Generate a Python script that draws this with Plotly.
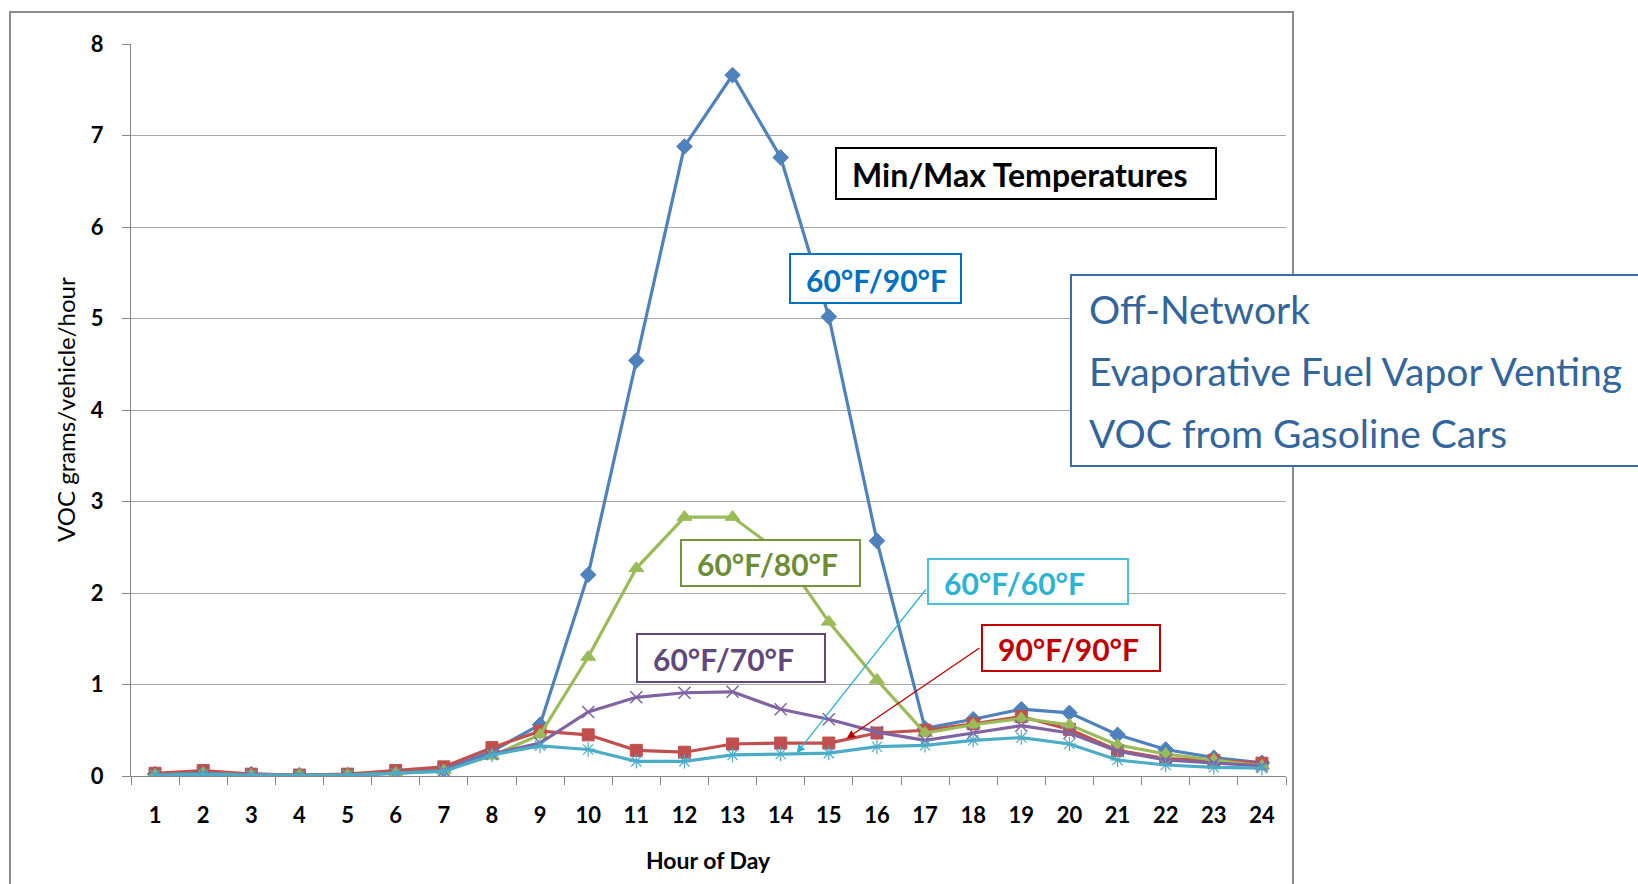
import plotly.graph_objects as go

# ---------------- data ----------------
hours = [str(h) for h in range(1, 25)]
voc_60_90 = [0.02, 0.04, 0.02, 0.01, 0.01, 0.04, 0.07, 0.27, 0.56, 2.20, 4.54, 6.88,
             7.66, 6.76, 5.02, 2.57, 0.52, 0.62, 0.73, 0.69, 0.45, 0.29, 0.20, 0.145]
voc_90_90 = [0.03, 0.06, 0.02, 0.01, 0.02, 0.06, 0.10, 0.31, 0.49, 0.45, 0.28, 0.26,
             0.35, 0.36, 0.36, 0.47, 0.50, 0.57, 0.65, 0.51, 0.28, 0.19, 0.17, 0.14]
voc_60_80 = [0.01, 0.03, 0.01, 0.01, 0.01, 0.03, 0.06, 0.22, 0.45, 1.30, 2.27, 2.83,
             2.83, 2.44, 1.685, 1.05, 0.47, 0.56, 0.63, 0.56, 0.34, 0.24, 0.175, 0.11]
voc_60_70 = [0.01, 0.03, 0.01, 0.01, 0.01, 0.03, 0.06, 0.24, 0.36, 0.70, 0.86, 0.91,
             0.92, 0.73, 0.62, 0.48, 0.39, 0.47, 0.55, 0.47, 0.27, 0.175, 0.14, 0.11]
voc_60_60 = [0.01, 0.02, 0.01, 0.005, 0.01, 0.03, 0.05, 0.23, 0.33, 0.29, 0.16, 0.16,
             0.23, 0.24, 0.25, 0.32, 0.335, 0.39, 0.42, 0.35, 0.175, 0.12, 0.095, 0.085]

series_names = ["60°F/90°F", "90°F/90°F", "60°F/80°F", "60°F/70°F", "60°F/60°F"]
y_title = "VOC grams/vehicle/hour"
x_title = "Hour of Day"
box_title = "Min/Max Temperatures"
side_lines = ["Off-Network", "Evaporative Fuel Vapor Venting", "VOC from Gasoline Cars"]

# arrow targets (hour, value) for 60°F/60°F and 90°F/90°F callouts
arrow_hours = [14.33, 15.37]
arrow_vals = [0.248, 0.41]

# ---------------- layout helpers ----------------
# page body margin is removed by the post script, so figure fills the window
OFF = 0
FW, FH = 1638 - OFF, 884 - OFF
PL, PR, PT, PB = 131, 1286, 44, 776   # plot area in window pixels
W = PR - PL
H = PB - PT


def px(x):
    return (x - PL) / W


def py(y):
    return (PB - y) / H


FONT = "Lato"

fig = go.Figure()

styles = [
    (voc_60_90, "#4F81BD", "diamond", 12, 1),
    (voc_90_90, "#C0504D", "square", 12, 1),
    (voc_60_80, "#9BBB59", "triangle-up", 13, 1),
    (voc_60_70, "#8064A2", "x-thin", 12, 1.5),
    (voc_60_60, "#4BACC6", "asterisk", 12, 1.2),
]
for name, (vals, color, sym, size, lw) in zip(series_names, styles):
    fig.add_trace(go.Scatter(
        x=hours, y=vals, name=name, mode="lines+markers",
        line=dict(color=color, width=3.2),
        marker=dict(symbol=sym, size=size, color=color,
                    line=dict(color=color, width=lw)),
        showlegend=False, hoverinfo="x+y+name"))

shapes = []
annotations = []

# outer frame
shapes.append(dict(type="rect", xref="paper", yref="paper",
                   x0=px(10), x1=px(1293), y0=py(905), y1=py(12),
                   line=dict(color="#8C8C8C", width=2), fillcolor="rgba(0,0,0,0)",
                   layer="below"))

# callout boxes: (text, x0, y0, x1, y1, text color, border color, font size)
boxes = [
    (box_title, 836, 148, 1216, 199, "#000000", "#000000", 32),
    (series_names[0], 790, 254, 961, 303, "#0070C0", "#0070C0", 30),
    (series_names[2], 681, 540, 860, 586, "#6E8C35", "#77933C", 30),
    (series_names[4], 928, 559, 1128, 604, "#2DB3D2", "#4BC0DC", 30),
    (series_names[1], 982, 625, 1160, 671, "#C00000", "#C00000", 30),
    (series_names[3], 637, 634, 825, 682, "#5F497A", "#5F497A", 30),
]
for text, x0, y0, x1, y1, tc, bc, fs in boxes:
    shapes.append(dict(type="rect", xref="paper", yref="paper",
                       x0=px(x0), x1=px(x1), y0=py(y1), y1=py(y0),
                       line=dict(color=bc, width=2), fillcolor="white", layer="above"))
    annotations.append(dict(xref="paper", yref="paper", x=px(x0 + 14), y=py((y0 + y1) / 2 + 1),
                            xanchor="left", yanchor="middle", showarrow=False, text=text,
                            font=dict(family=FONT, size=fs, color=tc, weight="bold")))

# side info box
shapes.append(dict(type="rect", xref="paper", yref="paper",
                   x0=px(1071), x1=px(1660), y0=py(466), y1=py(275),
                   line=dict(color="#3A6CA3", width=2), fillcolor="white", layer="above"))
for i, line in enumerate(side_lines):
    annotations.append(dict(xref="paper", yref="paper", x=px(1087), y=py(309 + 62 * i),
                            xanchor="left", yanchor="middle", showarrow=False, text=line,
                            font=dict(family=FONT, size=39, color="#33659C")))

# arrows
arrow_tails = [(927, 588), (981, 647)]
arrow_cols = ["#2DB3D2", "#C00000"]
for h, v, (tx, ty), col in zip(arrow_hours, arrow_vals, arrow_tails, arrow_cols):
    hx = PL + (h - 0.5) * W / 24
    hy = PB - v * H / 8
    annotations.append(dict(xref="x", yref="y", x=h - 1, y=v, text="",
                            showarrow=True, ax=tx - hx, ay=ty - hy, axref="pixel", ayref="pixel",
                            arrowhead=2, arrowsize=1.3, arrowwidth=1.3, arrowcolor=col,
                            standoff=0, startstandoff=0))

# axis titles
annotations.append(dict(xref="paper", yref="paper", x=px(708), y=py(860),
                        xanchor="center", yanchor="middle", showarrow=False, text=x_title,
                        font=dict(family=FONT, size=23, color="black", weight="bold")))
annotations.append(dict(xref="paper", yref="paper", x=px(65), y=py(410),
                        xanchor="center", yanchor="middle", showarrow=False, text=y_title,
                        textangle=-90,
                        font=dict(family=FONT, size=24, color="black")))

fig.update_layout(
    width=FW, height=FH,
    margin=dict(l=PL - OFF, r=FW - (PR - OFF), t=PT - OFF, b=FH - (PB - OFF), autoexpand=False),
    paper_bgcolor="white", plot_bgcolor="white",
    shapes=shapes, annotations=annotations,
    font=dict(family=FONT, color="black"),
    xaxis=dict(type="category", range=[-0.5, 23.5], tickson="boundaries",
               ticks="outside", ticklen=8, tickcolor="#868686", tickwidth=1,
               showline=True, linecolor="#868686", linewidth=1,
               showgrid=False, zeroline=False, automargin=False,
               ticklabelstandoff=20,
               tickfont=dict(family=FONT, size=22, color="black", weight="bold")),
    yaxis=dict(range=[0, 8], dtick=1, tick0=0,
               ticks="outside", ticklen=8, tickcolor="#868686", tickwidth=1,
               showline=True, linecolor="#868686", linewidth=1,
               showgrid=True, gridcolor="#A6A6A6", gridwidth=1,
               zeroline=False, automargin=False,
               ticklabelstandoff=14,
               tickfont=dict(family=FONT, size=22, color="black", weight="bold")),
)

fig.write_html("out.html",
               config={"displayModeBar": False},
               post_script="document.body.style.margin='0';document.body.style.overflow='hidden';")
